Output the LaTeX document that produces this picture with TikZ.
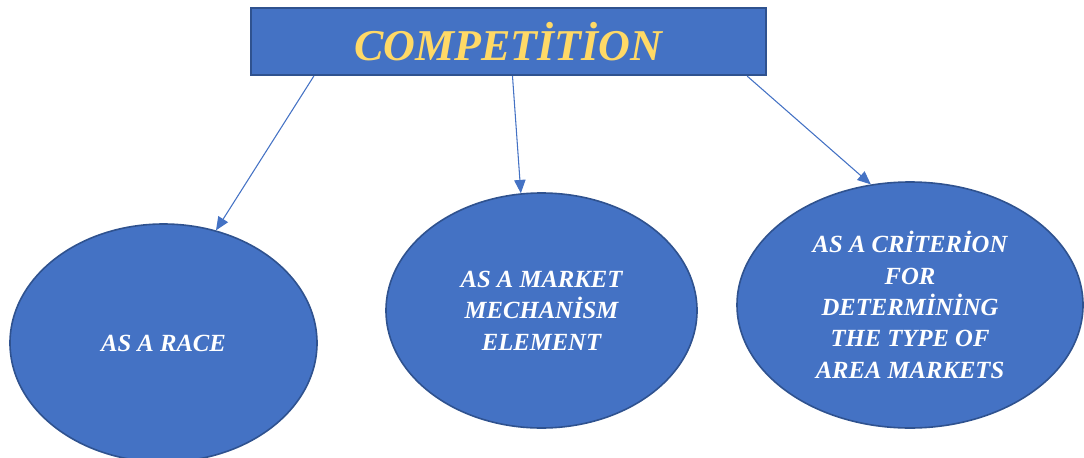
\documentclass[tikz,border=0pt]{standalone}
\usepackage{fontspec}
\setmainfont{Liberation Serif}
\usetikzlibrary{shapes.geometric,arrows.meta}
\definecolor{boxblue}{HTML}{4472C4}
\definecolor{edgeblue}{HTML}{2F528F}
\definecolor{titleyellow}{HTML}{FFD966}

\begin{document}
\begin{tikzpicture}[x=0.75pt,y=-0.75pt,>={Triangle[length=10pt,width=8.5pt]},
  oval/.style={ellipse,draw=edgeblue,line width=1.2pt,fill=boxblue,inner sep=0pt,
    text=white,align=center,font=\bfseries\itshape\fontsize{18.5}{23.5}\selectfont},
  link/.style={->,boxblue,line width=0.8pt}]
  \useasboundingbox (0,0) rectangle (1084,457);
  \node[draw=edgeblue,line width=1.9pt,fill=boxblue,minimum width=386pt,minimum height=50pt,
    inner sep=0pt,text=titleyellow,font=\bfseries\itshape\fontsize{33}{38}\selectfont]
    (title) at (508.5,41.5) {COMPETİTİON};
  \foreach \n/\x/\y/\rx/\ry/\t in
  {
    race/163.5/343/153.5/119/{AS A RACE},
    market/541.5/310.5/155.5/117.5/{AS A MARKET\\MECHANİSM\\ELEMENT},
    crit/910/305/173/123/{AS A CRİTERİON\\FOR\\DETERMİNİNG\\THE TYPE OF\\AREA MARKETS}%
  }
    \node[oval,minimum width=1.5*\rx,minimum height=1.5*\ry] (\n) at (\x,\y) {\t};
  \draw[link] ([xshift=-146pt]title.south) -- (race.65);
  \draw[link] ([xshift=3pt]title.south) -- (market.100);
  \draw[link] ([xshift=179pt]title.south) -- (crit.108);
\end{tikzpicture}
\end{document}
